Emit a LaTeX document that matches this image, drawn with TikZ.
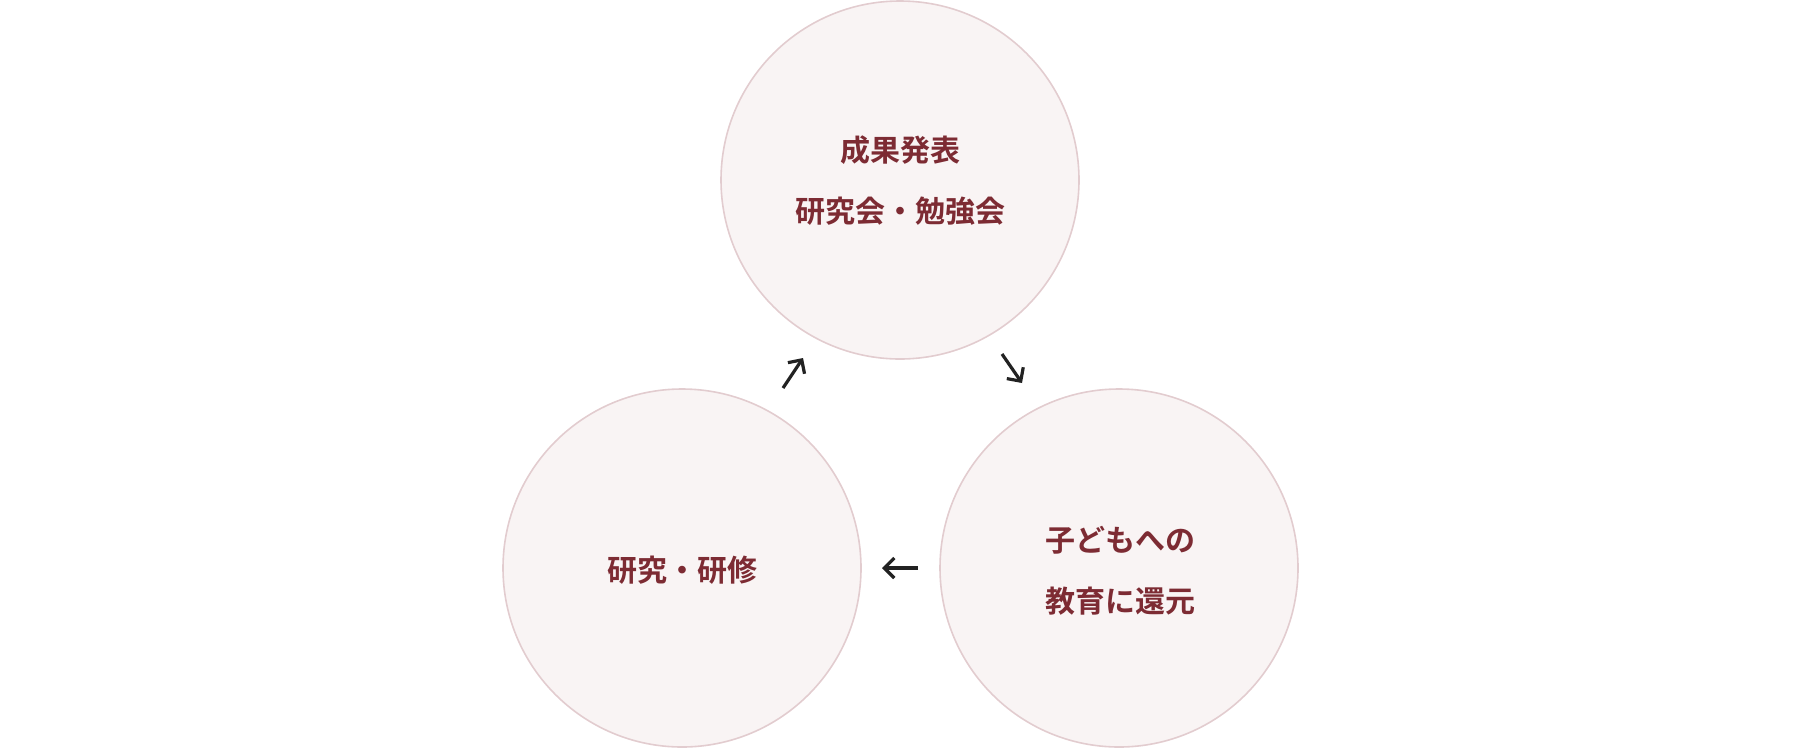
\documentclass[tikz,border=0pt]{standalone}
\usepackage{fontspec}
\newfontfamily\jpb{Noto Sans CJK JP Bold}
\usetikzlibrary{arrows.meta}
\definecolor{txtred}{HTML}{7D2B33}
\definecolor{cfill}{HTML}{F9F4F4}
\definecolor{cline}{HTML}{E2CCCF}
\definecolor{arr}{HTML}{222222}
\tikzset{
  bubble/.style={circle,draw=cline,fill=cfill,line width=1.6pt,minimum size=358pt,inner sep=0pt},
  lbl/.style={text=txtred,font=\jpb\fontsize{30pt}{61pt}\selectfont,align=center},
  cyc/.style={draw=arr,line width=3.2pt,-{Straight Barb[length=10pt,width=20pt,line width=3.2pt]}}
}
\begin{document}
\begin{tikzpicture}[x=1pt,y=-1pt]
\useasboundingbox (0,0) rectangle (1800,748);
\node[bubble] (top) at (900,180) {};
\node[bubble] (bl) at (682,568) {};
\node[bubble] (br) at (1119,568) {};
\node[lbl] (tt) at (900,181) {成果発表\\研究会・勉強会};
\node[lbl] (bt) at (682,570) {研究・研修};
\node[lbl] (rt) at (1120,571) {子どもへの\\教育に還元};
\coordinate (a1s) at (783,388);
\coordinate (a1e) at (803,358);
\coordinate (a2s) at (1002,354);
\coordinate (a2e) at (1022,383);
\coordinate (a3s) at (918,568);
\coordinate (a3e) at (882,568);
\draw[cyc] (a1s) -- (a1e);
\draw[cyc] (a2s) -- (a2e);
\draw[cyc] (a3s) -- (a3e);
\end{tikzpicture}
\end{document}
